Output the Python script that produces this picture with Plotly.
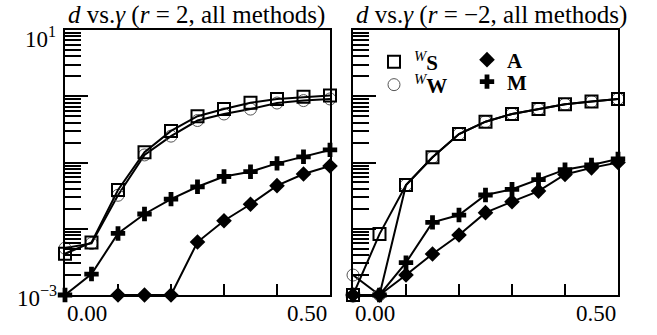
import plotly.graph_objects as go

gamma = [0.00, 0.05, 0.10, 0.15, 0.20, 0.25, 0.30, 0.35, 0.40, 0.45, 0.50]

# left panel (r = 2)
left_S = [0.0042, 0.0062, 0.0385, 0.143, 0.30, 0.50, 0.64, 0.80, 0.91, 0.98, 1.03]
left_W = [0.0051, 0.0060, 0.032, 0.13, 0.25, 0.43, 0.54, 0.64, 0.79, 0.86, 0.91]
left_A = [None, None, 0.001, 0.001, 0.001, 0.0063, 0.0132, 0.0234, 0.0447, 0.067, 0.0885]
left_M = [0.001, 0.00207, 0.0085, 0.0167, 0.028, 0.043, 0.0615, 0.0726, 0.097, 0.122, 0.155]

# right panel (r = -2)
right_S = [0.001, 0.0083, 0.0457, 0.12, 0.269, 0.413, 0.54, 0.64, 0.757, 0.83, 0.91]
right_W = [0.002, 0.001, 0.0457, 0.12, 0.269, 0.413, 0.54, 0.64, 0.757, 0.83, 0.91]
right_A = [0.001, 0.001, 0.0020, 0.00416, 0.00805, 0.0175, 0.0256, 0.037, 0.066, 0.083, 0.100]
right_M = [0.001, 0.001, 0.00308, 0.0125, 0.0161, 0.0323, 0.0394, 0.055, 0.078, 0.092, 0.113]

titles = ["<i>d</i> vs.<i>γ</i> (<i>r</i> = 2, all methods)",
          "<i>d</i> vs.<i>γ</i> (<i>r</i> = −2, all methods)"]
x_tick_labels = ["0.00", "0.50"]
y_tick_labels = ["10<sup>1</sup>", "10<sup>−3</sup>"]

W, H = 657, 335
FONT = "Liberation Serif, Times New Roman, Times, serif"

styles = {
    "S": dict(symbol="square-open", size=12, color="black", line=dict(width=2, color="black")),
    "W": dict(symbol="circle-open", size=12, color="#555555", line=dict(width=1, color="#555555")),
    "A": dict(symbol="diamond", size=12, color="black"),
    "M": dict(symbol="cross", size=12, color="black"),
}
names = {
    "S": "<sup><i>W</i></sup><b>S</b>",
    "W": "<sup><i>W</i></sup><b>W</b>",
    "A": "<b>A</b>",
    "M": "<b>M</b>",
}

fig = go.Figure()

panels = [("x", "y", {"S": left_S, "W": left_W, "A": left_A, "M": left_M}),
          ("x2", "y2", {"S": right_S, "W": right_W, "A": right_A, "M": right_M})]
for xa, ya, series in panels:
    for key in ["W", "S", "M", "A"]:
        fig.add_trace(go.Scatter(
            x=gamma, y=series[key], xaxis=xa, yaxis=ya, mode="lines+markers",
            line=dict(color="black", width=2), marker=styles[key],
            showlegend=False, cliponaxis=False, connectgaps=False))

def px_x(p):
    return p / W

def px_y(p):
    return (H - p) / H

# legend-only entries, one legend box each so they can be placed like the original key
legend_pos = {"S": ("legend", 374, 62), "W": ("legend2", 374, 85),
              "A": ("legend3", 467, 60), "M": ("legend4", 467, 82)}
for key in ["S", "W", "A", "M"]:
    leg = legend_pos[key][0]
    fig.add_trace(go.Scatter(x=[None], y=[None], mode="markers", marker=styles[key],
                             name=names[key], legend=leg, xaxis="x2", yaxis="y2"))

major = [1e-3, 1e-2, 1e-1, 1, 10]
minor_vals = [k * 10 ** e for e in range(-3, 1) for k in range(2, 10)]

common_x = dict(range=[0, 0.5], tickvals=[0.1, 0.2, 0.3, 0.4], ticks="inside", ticklen=11,
                tickwidth=2, tickcolor="black", showticklabels=False, showgrid=False,
                zeroline=False, showline=True, linewidth=2, linecolor="black", mirror=True)
common_y = dict(type="log", range=[-3, 1], tickvals=major, ticks="inside", ticklen=23,
                tickwidth=2, tickcolor="black", showticklabels=False, showgrid=False,
                zeroline=False, showline=True, linewidth=2, linecolor="black", mirror=True,
                minor=dict(tickvals=minor_vals, ticks="inside", ticklen=16, tickwidth=2,
                           tickcolor="black", showgrid=False))

legends = {}
for key, (leg, lx, ly) in legend_pos.items():
    legends[leg] = dict(x=px_x(lx), y=px_y(ly), xanchor="left", yanchor="middle",
                        bgcolor="rgba(0,0,0,0)", font=dict(family=FONT, size=21),
                        itemwidth=30)

fig.update_layout(
    width=W, height=H, margin=dict(l=0, r=0, t=0, b=0),
    paper_bgcolor="white", plot_bgcolor="white",
    font=dict(family=FONT, size=23, color="black"),
    xaxis=dict(domain=[px_x(65), px_x(330)], anchor="y", **common_x),
    yaxis=dict(domain=[px_y(295), px_y(30)], anchor="x", **common_y),
    xaxis2=dict(domain=[px_x(353), px_x(618)], anchor="y2", **common_x),
    yaxis2=dict(domain=[px_y(295), px_y(30)], anchor="x2", **common_y),
    **legends,
)

ann = []
for t, cx in zip(titles, [196, 491]):
    ann.append(dict(text=t, x=px_x(cx), y=px_y(15), xref="paper", yref="paper",
                    xanchor="center", yanchor="middle", showarrow=False,
                    font=dict(family=FONT, size=25)))
ann.append(dict(text=y_tick_labels[0], x=px_x(58), y=px_y(38), xref="paper", yref="paper",
                xanchor="right", yanchor="middle", showarrow=False))
ann.append(dict(text=y_tick_labels[1], x=px_x(59), y=px_y(296), xref="paper", yref="paper",
                xanchor="right", yanchor="middle", showarrow=False))
for cx0, cx1 in [(87, 307), (375, 596)]:
    for lab, cx in zip(x_tick_labels, [cx0, cx1]):
        ann.append(dict(text=lab, x=px_x(cx), y=px_y(313), xref="paper", yref="paper",
                        xanchor="center", yanchor="middle", showarrow=False))
fig.update_layout(annotations=ann)

fig.write_html("out.html", config={"displayModeBar": False},
               post_script="document.body.style.margin='0';")
